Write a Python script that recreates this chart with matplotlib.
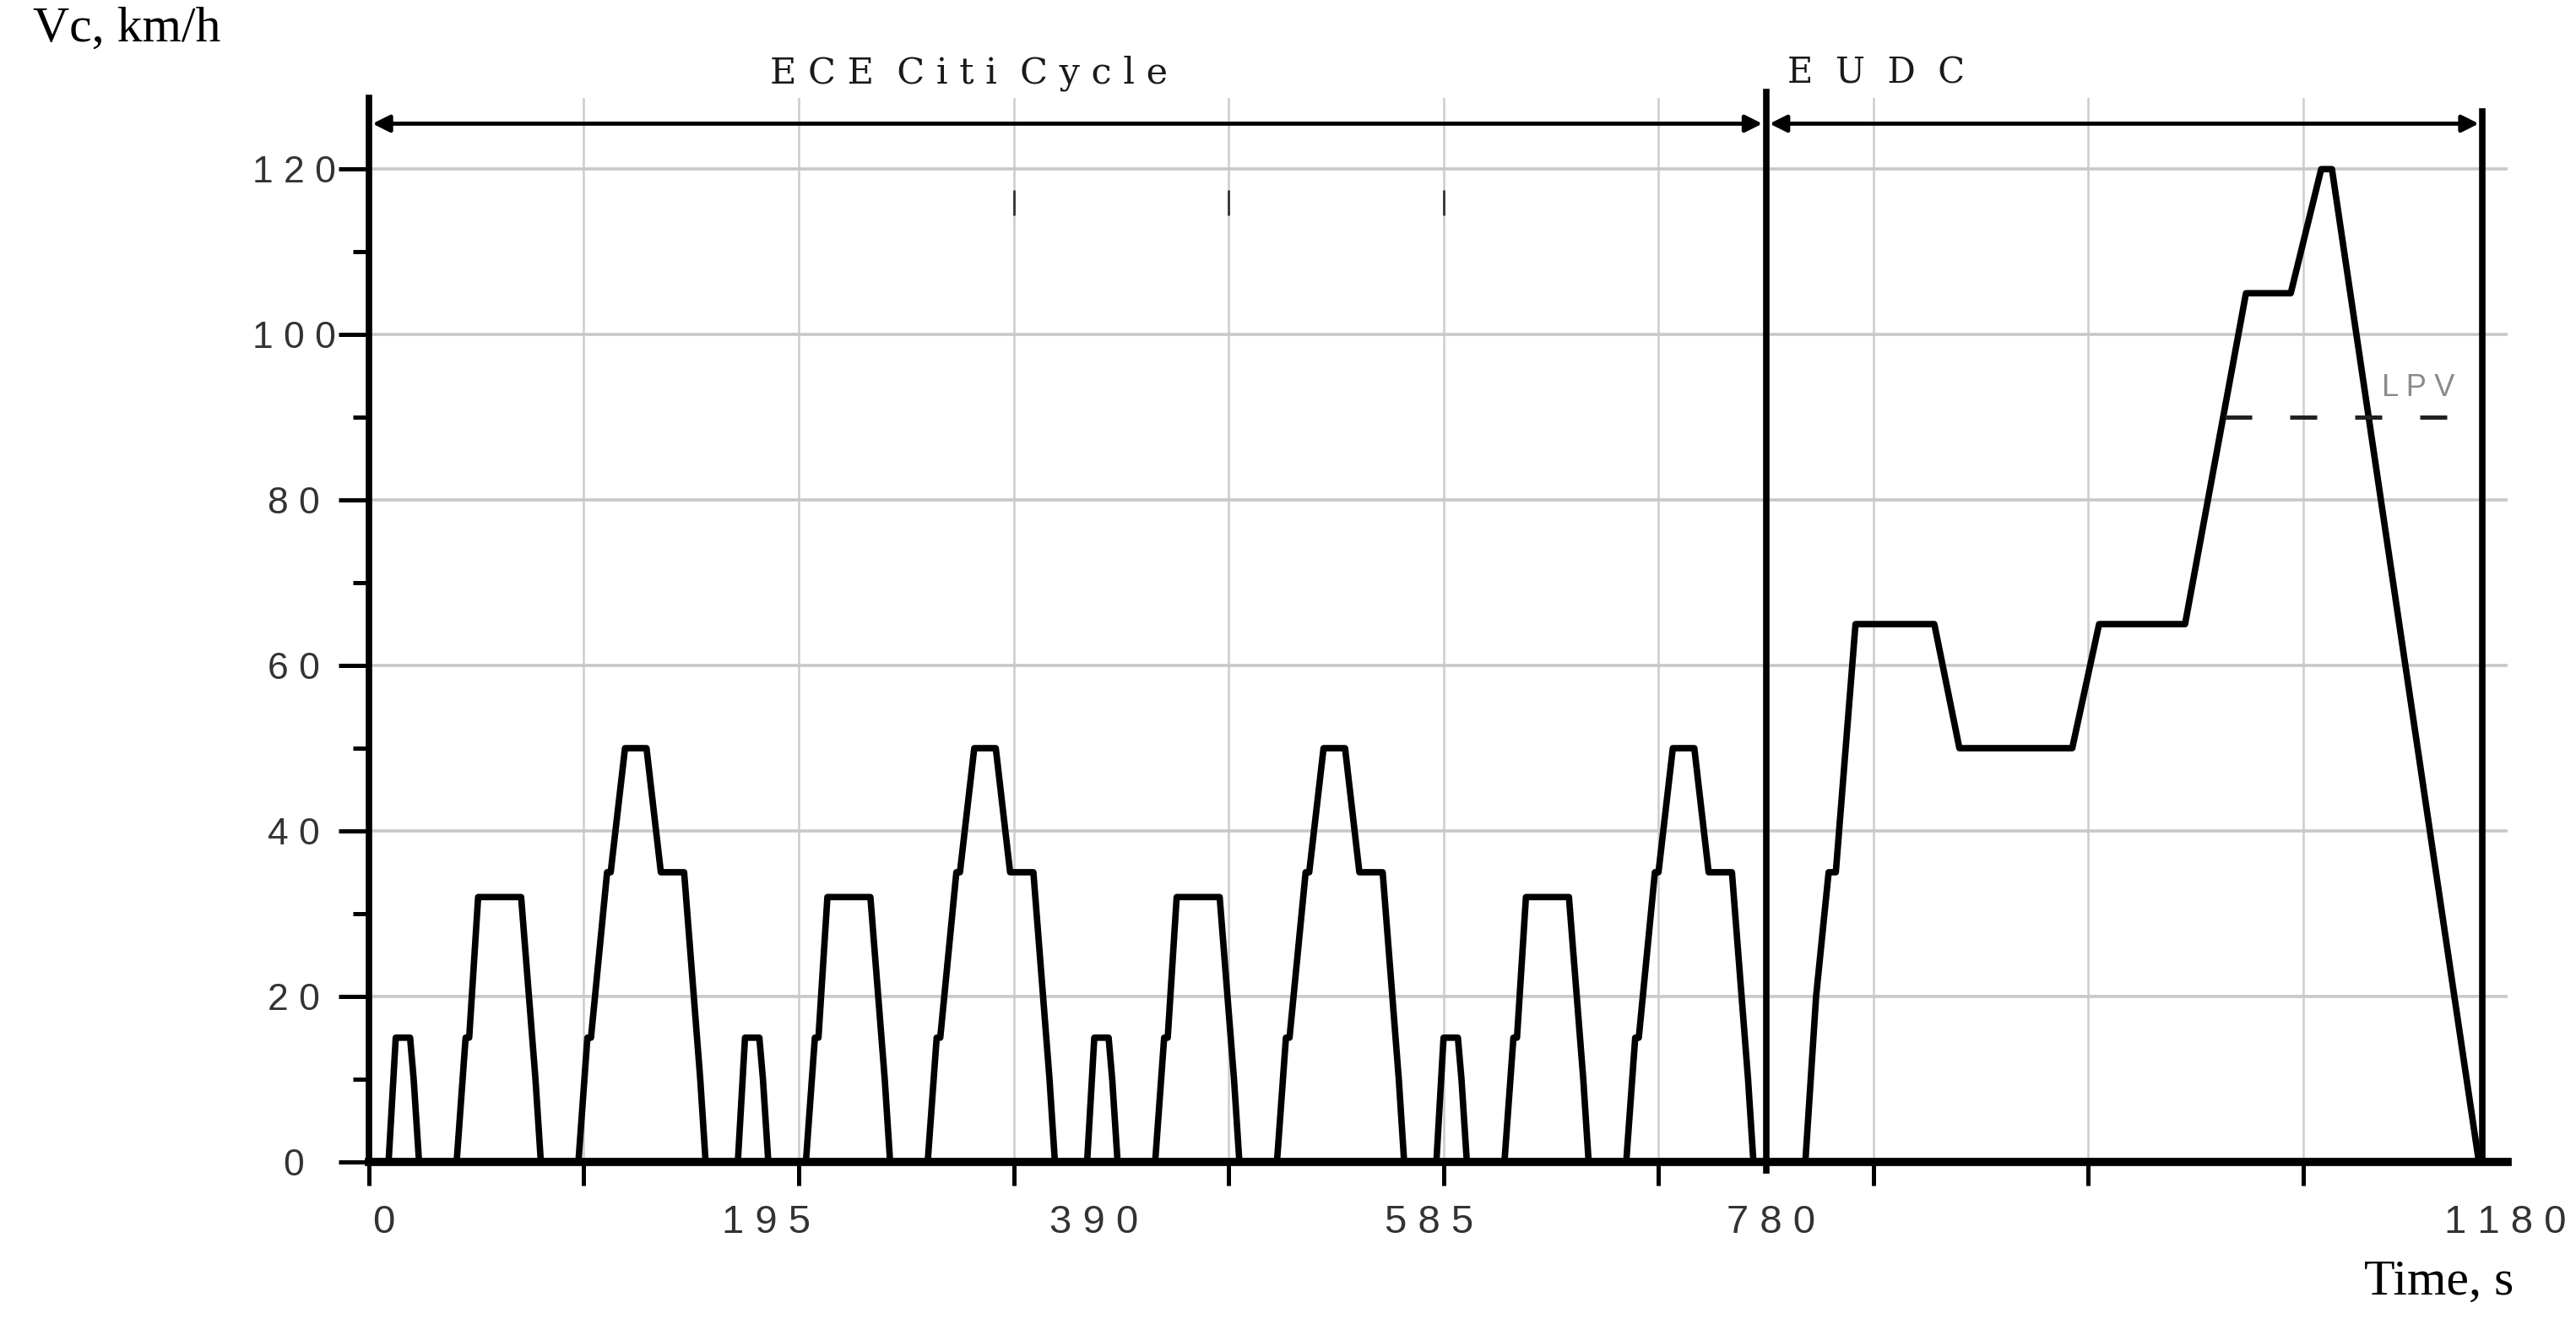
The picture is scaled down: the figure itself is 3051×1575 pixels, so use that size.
import matplotlib
matplotlib.use("Agg")
import matplotlib.pyplot as plt

# one ECE-15 urban cycle (time in s, speed in km/h)
ece_t = [0, 11, 15, 23, 25, 28, 49, 54, 56, 61, 85, 93, 96, 117, 122, 124,
         133, 135, 143, 155, 163, 176, 185, 188, 195]
ece_v = [0, 0, 15, 15, 10, 0, 0, 15, 15, 32, 32, 10, 0, 0, 15, 15,
         35, 35, 50, 50, 35, 35, 10, 0, 0]
ece_starts = [0, 195, 390, 585]

# extra-urban part
eudc_t = [780, 802, 808, 815, 819, 830, 874, 888, 951, 966, 1014, 1048,
          1073, 1090, 1096, 1178, 1180]
eudc_v = [0, 0, 20, 35, 35, 65, 65, 50, 50, 65, 65, 105,
          105, 120, 120, 0, 0]

lpv_speed = 90
lpv_span = [1036, 1160]

ece_end = 780
t_end = 1180
x_labels = [0, 195, 390, 585, 780, 1180]
y_labels = [0, 20, 40, 60, 80, 100, 120]
top_marks = [360, 480, 600]


def spaced(s):
    return " ".join(str(s))


def main() -> None:
    t_all, v_all = [], []
    for start in ece_starts:
        t_all += [start + t for t in ece_t]
        v_all += ece_v
    t_all += eudc_t
    v_all += eudc_v

    fig = plt.figure(figsize=(30.51, 15.75), dpi=100)
    ax = fig.add_axes([0.1432, 0.1265, 0.8302, 0.7998])
    ax.set_xlim(0, 1194)
    ax.set_ylim(0, 128.6)

    for side in ["top", "right"]:
        ax.spines[side].set_visible(False)
    ax.spines["left"].set_linewidth(5.5)
    ax.spines["bottom"].set_linewidth(7)

    # grid and ticks
    ax.set_xticks(range(0, 1081, 120), labels=[""] * 10)
    ax.set_yticks(y_labels, labels=[spaced(v) for v in y_labels],
                  family="Liberation Sans", fontsize=32, color="#333333")
    for lab in ax.get_yticklabels():
        lab.set_horizontalalignment("center")
    ax.set_yticks(range(10, 120, 20), minor=True)
    ax.grid(True, which="major", axis="y", color="#c8c8c8", lw=2.6)
    ax.grid(True, which="major", axis="x", color="#cccccc", lw=1.8)
    ax.set_axisbelow(True)
    ax.tick_params(axis="x", which="major", direction="out", length=20, width=3.6)
    ax.tick_params(axis="y", which="major", direction="out", length=26, width=3.6, pad=38)
    ax.tick_params(axis="y", which="minor", direction="out", length=14, width=3.6)

    # hand-placed time labels, as in the original
    label_nudge = [8, 27, 15, 7, 3, 13]
    for v, n in zip(x_labels, label_nudge):
        ax.text(v + n, -0.057, spaced(v), transform=ax.get_xaxis_transform(),
                ha="center", va="center", family="Liberation Sans",
                fontsize=34, color="#333333")

    # boundary lines
    ax.plot([ece_end, ece_end], [-1, 129.3], color="black", lw=5.5, clip_on=False)
    ax.plot([t_end, t_end], [0, 127], color="black", lw=5.5, clip_on=False)
    ax.vlines(top_marks, 114.4, 117.5, color="#333333", lw=2)

    # section arrows
    arrow = dict(arrowstyle="<|-|>", lw=3.5, color="black", mutation_scale=30,
                 shrinkA=0, shrinkB=0)
    ax.annotate("", xy=(2, 125.5), xytext=(ece_end - 2, 125.5),
                arrowprops=arrow, annotation_clip=False)
    ax.annotate("", xy=(ece_end + 2, 125.5), xytext=(t_end - 2, 125.5),
                arrowprops=arrow, annotation_clip=False)
    ax.text(335, 131.6, "E C E  C i t i  C y c l e", ha="center", va="center",
            family="DejaVu Serif", fontsize=31, color="#1a1a1a")
    ax.text(792, 131.6, "E  U  D  C", ha="left", va="center",
            family="DejaVu Serif", fontsize=30, color="#1a1a1a")

    # speed trace
    ax.plot(t_all, v_all, color="black", lw=5.5, clip_on=False)

    # LPV reference
    ax.plot(lpv_span, [lpv_speed] * 2, color="#222222", lw=3.6, dashes=(6.4, 9))
    ax.text(1124, 93.5, "L P V", ha="left", va="center",
            family="Liberation Sans", fontsize=26, color="#8a8a8a")

    fig.text(0.0128, 0.9777, "Vc, km/h", ha="left", va="center",
             family="Liberation Serif", fontsize=43)
    fig.text(0.9758, 0.0358, "Time, s", ha="right", va="center",
             family="Liberation Serif", fontsize=43)

    fig.savefig("out.png", dpi=100)


if __name__ == "__main__":
    main()
